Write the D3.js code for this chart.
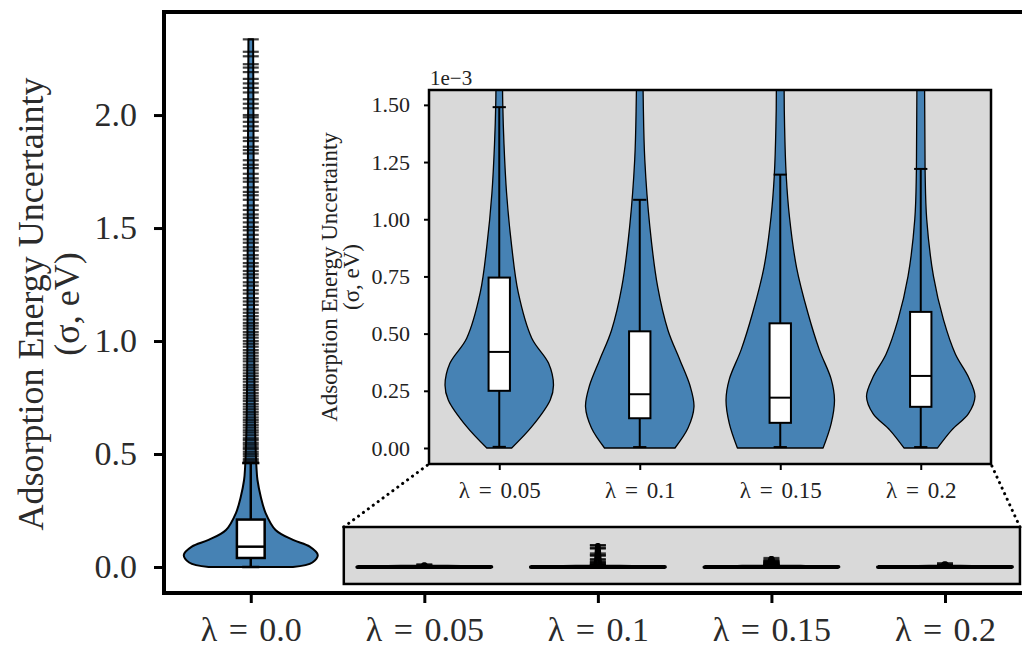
<!DOCTYPE html>
<html lang="en">
<head>
<meta charset="UTF-8">
<title>Adsorption energy uncertainty</title>
<script src="https://cdn.jsdelivr.net/npm/d3@7"></script>
<style>
  body { margin: 0; background: #fff; }
  svg { display: block; font-family: "Liberation Serif", "Times New Roman", serif; }
</style>
</head>
<body>
<svg width="1022" height="647"></svg>
<script>
// categories
var lambdas = ['λ = 0.0', 'λ = 0.05', 'λ = 0.1', 'λ = 0.15', 'λ = 0.2'];
var insetLambdas = lambdas.slice(1);

// tick values (eV)
var mainTicks = [0, 0.5, 1.0, 1.5, 2.0];
var insetTicks = [0, 0.25e-3, 0.5e-3, 0.75e-3, 1.0e-3, 1.25e-3, 1.5e-3];

// box plot stats per lambda (eV)
var whiskerLow  = [0.0,  0.005e-3, 0.004e-3, 0.004e-3, 0.004e-3];
var q1          = [0.04, 0.25e-3,  0.13e-3,  0.11e-3,  0.18e-3];
var median      = [0.09, 0.42e-3,  0.235e-3, 0.22e-3,  0.315e-3];
var q3          = [0.21, 0.745e-3, 0.51e-3,  0.545e-3, 0.595e-3];
var whiskerHigh = [0.46, 1.49e-3,  1.085e-3, 1.195e-3, 1.22e-3];

// violin outlines: [value (eV), relative half width]
var violinL000 = [[0,0.63],[0.02,0.92],[0.053,1.0],[0.09,0.88],[0.12,0.63],[0.164,0.37],[0.24,0.22],
  [0.31,0.15],[0.385,0.10],[0.44,0.085],[0.6,0.065],[1.0,0.05],[1.6,0.045],[2.335,0.035]];
var violinL005 = [[0,0.23],[0.093e-3,0.6],[0.21e-3,0.94],[0.275e-3,1.0],[0.37e-3,0.91],[0.48e-3,0.6],
  [0.68e-3,0.35],[0.88e-3,0.23],[1.115e-3,0.135],[1.33e-3,0.087],[1.5e-3,0.065],[2.0e-3,0.045],[12e-3,0.012]];
var violinL010 = [[0,0.65],[0.087e-3,0.89],[0.18e-3,1.0],[0.27e-3,0.93],[0.385e-3,0.74],[0.515e-3,0.52],
  [0.705e-3,0.33],[0.97e-3,0.185],[1.26e-3,0.093],[1.51e-3,0.065],[2.0e-3,0.05],[97e-3,0.012]];
var violinL015 = [[0,0.79],[0.108e-3,0.94],[0.21e-3,1.0],[0.3e-3,0.94],[0.43e-3,0.72],[0.59e-3,0.51],
  [0.79e-3,0.3],[1.01e-3,0.17],[1.19e-3,0.11],[1.405e-3,0.08],[2.0e-3,0.06],[40e-3,0.015]];
var violinL020 = [[0,0.31],[0.078e-3,0.57],[0.15e-3,0.88],[0.225e-3,1.0],[0.31e-3,0.88],[0.41e-3,0.64],
  [0.56e-3,0.42],[0.75e-3,0.235],[1.0e-3,0.11],[1.215e-3,0.08],[2.0e-3,0.06],[17e-3,0.015]];
var violins = [violinL000, violinL005, violinL010, violinL015, violinL020];

// outliers (eV)
var fliersL000 = [0.462,0.47,0.478,0.49,0.50,0.51,0.522,0.53,0.541,0.55,0.562,0.57,0.583,0.595,0.605,
  0.617,0.628,0.64,0.651,0.662,0.675,0.686,0.698,0.71,0.722,0.735,0.746,0.758,0.77,0.783,0.795,0.806,
  0.82,0.832,0.845,0.857,0.87,0.883,0.895,0.91,0.922,0.935,0.948,0.96,0.975,0.988,1.0,1.015,1.028,1.04,
  1.055,1.068,1.08,1.095,1.11,1.125,1.14,1.16,1.175,1.19,1.21,1.225,1.245,1.26,1.28,1.295,1.31,1.33,
  1.345,1.365,1.38,1.40,1.415,1.435,1.45,1.47,1.49,1.505,1.525,1.545,1.56,1.58,1.60,1.625,1.645,1.66,
  1.68,1.705,1.72,1.74,1.765,1.78,1.80,1.83,1.845,1.86,1.885,1.90,1.93,1.95,1.97,1.99,2.0,2.03,2.05,
  2.07,2.10,2.12,2.14,2.16,2.19,2.21,2.225,2.26,2.28,2.335];
var fliersL005 = [0.012,0.008,0.005,0.003];
var fliersL010 = [0.097,0.095,0.084,0.082,0.06,0.053,0.05,0.035,0.03,0.022,0.02,0.015,0.012,0.01,0.008,0.006,0.004];
var fliersL015 = [0.04,0.032,0.028,0.025,0.022,0.02,0.018,0.016,0.014,0.012,0.01,0.009,0.008,0.007,0.006,0.005,0.004,0.003];
var fliersL020 = [0.017,0.012,0.009,0.007,0.005,0.004,0.003];
var fliers = [fliersL000, fliersL005, fliersL010, fliersL015, fliersL020];

// zoom window drawn on the main axes (data units)
var zoomBoxX = [0.536, 4.432];
var zoomBoxY = [-0.075, 0.177];

var fill = '#4682b4', grey = '#d9d9d9';
var svg = d3.select('svg');
var mainBox = {left: 164, top: 12, right: 1031.75, bottom: 593};
var insetBox = {left: 429, top: 90, right: 991, bottom: 464};

var x = d3.scalePoint().domain(lambdas).range([mainBox.left, mainBox.right]).padding(0.5);
var y = d3.scaleLinear().domain([-0.115, 2.456]).range([mainBox.bottom, mainBox.top]);
var xi = d3.scalePoint().domain(insetLambdas).range([insetBox.left, insetBox.right]).padding(0.5);
var yi = d3.scaleLinear().domain([-0.07e-3, 1.565e-3]).range([insetBox.bottom, insetBox.top]);

function drawViolin(g, prof, cx, hw, ys, sw) {
    var area = d3.area()
        .curve(d3.curveCatmullRom.alpha(0.5))
        .y(function(d) { return ys(d[0]); })
        .x0(function(d) { return cx - hw * d[1]; })
        .x1(function(d) { return cx + hw * d[1]; });
    g.append('path').attr('d', area(prof))
        .attr('fill', fill).attr('stroke', '#000').attr('stroke-width', sw)
        .attr('stroke-linejoin', 'round');
}

function drawBox(g, i, cx, bw, ys, sw) {
    var cw = bw * 0.62;
    g.append('line').attr('x1', cx).attr('x2', cx)
        .attr('y1', ys(whiskerLow[i])).attr('y2', ys(whiskerHigh[i]))
        .attr('stroke', '#000').attr('stroke-width', sw);
    [whiskerLow[i], whiskerHigh[i]].forEach(function(v) {
        g.append('line').attr('x1', cx - cw / 2).attr('x2', cx + cw / 2)
            .attr('y1', ys(v)).attr('y2', ys(v))
            .attr('stroke', '#000').attr('stroke-width', sw);
    });
    g.append('rect').attr('x', cx - bw / 2).attr('width', bw)
        .attr('y', ys(q3[i])).attr('height', ys(q1[i]) - ys(q3[i]))
        .attr('fill', '#fff').attr('stroke', '#000').attr('stroke-width', sw);
    g.append('line').attr('x1', cx - bw / 2).attr('x2', cx + bw / 2)
        .attr('y1', ys(median[i])).attr('y2', ys(median[i]))
        .attr('stroke', '#000').attr('stroke-width', sw);
}

// ---------- main axes ----------
var gm = svg.append('g');
gm.append('rect')
    .attr('x', x(lambdas[0]) + zoomBoxX[0] * x.step())
    .attr('y', y(zoomBoxY[1]))
    .attr('width', (zoomBoxX[1] - zoomBoxX[0]) * x.step())
    .attr('height', y(zoomBoxY[0]) - y(zoomBoxY[1]))
    .attr('fill', grey).attr('stroke', '#000').attr('stroke-width', 2.5);

lambdas.forEach(function(l, i) {
    var cx = x(l);
    drawViolin(gm, violins[i], cx, x.step() * 0.386, y, i === 0 ? 2 : 4);
    drawBox(gm, i, cx, x.step() * 0.16, y, 2.5);
    gm.append('g').selectAll('line').data(fliers[i]).enter().append('line')
        .attr('x1', cx - 8).attr('x2', cx + 8)
        .attr('y1', function(d) { return y(d); }).attr('y2', function(d) { return y(d); })
        .attr('stroke', '#000').attr('stroke-width', 2.2).attr('stroke-opacity', 0.75);
});

gm.append('rect')
    .attr('x', mainBox.left).attr('y', mainBox.top)
    .attr('width', mainBox.right - mainBox.left).attr('height', mainBox.bottom - mainBox.top)
    .attr('fill', 'none').attr('stroke', '#000').attr('stroke-width', 4);

var yAxis = gm.append('g').attr('transform', 'translate(' + mainBox.left + ',0)')
    .call(d3.axisLeft(y).tickValues(mainTicks).tickFormat(d3.format('.1f')).tickSize(10).tickPadding(17));
var xAxis = gm.append('g').attr('transform', 'translate(0,' + mainBox.bottom + ')')
    .call(d3.axisBottom(x).tickSize(10).tickPadding(14));
[yAxis, xAxis].forEach(function(a) {
    a.attr('font-family', null).attr('font-size', null);
    a.select('.domain').remove();
    a.selectAll('line').attr('stroke', '#000').attr('stroke-width', 3);
    a.selectAll('text').attr('font-size', 34).attr('fill', '#2b2b2b');
});
xAxis.selectAll('text').style('word-spacing', '3px');

gm.append('text')
    .attr('transform', 'translate(43,304) rotate(-90)')
    .attr('text-anchor', 'middle').attr('font-size', 36).attr('fill', '#2b2b2b')
    .text('Adsorption Energy Uncertainty');
gm.append('text')
    .attr('transform', 'translate(79,304) rotate(-90)')
    .attr('text-anchor', 'middle').attr('font-size', 36).attr('fill', '#2b2b2b')
    .text('(σ, eV)');

// connector dots from zoom window to inset
var zx0 = x(lambdas[0]) + zoomBoxX[0] * x.step(), zx1 = x(lambdas[0]) + zoomBoxX[1] * x.step();
[[zx0, insetBox.left], [zx1, insetBox.right]].forEach(function(p) {
    svg.append('line')
        .attr('x1', p[0]).attr('y1', y(zoomBoxY[1]))
        .attr('x2', p[1]).attr('y2', insetBox.bottom)
        .attr('stroke', '#000').attr('stroke-width', 3)
        .attr('stroke-linecap', 'round').attr('stroke-dasharray', '0.1,6');
});

// ---------- inset axes ----------
var gi = svg.append('g');
gi.append('rect')
    .attr('x', insetBox.left).attr('y', insetBox.top)
    .attr('width', insetBox.right - insetBox.left).attr('height', insetBox.bottom - insetBox.top)
    .attr('fill', grey);
svg.append('defs').append('clipPath').attr('id', 'inset-clip').append('rect')
    .attr('x', insetBox.left).attr('y', insetBox.top)
    .attr('width', insetBox.right - insetBox.left).attr('height', insetBox.bottom - insetBox.top);
var gc = gi.append('g').attr('clip-path', 'url(#inset-clip)');
insetLambdas.forEach(function(l, j) {
    var cx = xi(l), i = j + 1;
    drawViolin(gc, violins[i], cx, xi.step() * 0.386, yi, 1.3);
    drawBox(gc, i, cx, xi.step() * 0.152, yi, 2);
});
gi.append('rect')
    .attr('x', insetBox.left).attr('y', insetBox.top)
    .attr('width', insetBox.right - insetBox.left).attr('height', insetBox.bottom - insetBox.top)
    .attr('fill', 'none').attr('stroke', '#000').attr('stroke-width', 2.5);

var yiAxis = gi.append('g').attr('transform', 'translate(' + insetBox.left + ',0)')
    .call(d3.axisLeft(yi).tickValues(insetTicks)
        .tickFormat(function(d) { return d3.format('.2f')(d / 1e-3); })
        .tickSize(5).tickPadding(14));
var xiAxis = gi.append('g').attr('transform', 'translate(0,' + insetBox.bottom + ')')
    .call(d3.axisBottom(xi).tickSize(6).tickPadding(12));
[yiAxis, xiAxis].forEach(function(a) {
    a.attr('font-family', null).attr('font-size', null);
    a.select('.domain').remove();
    a.selectAll('line').attr('stroke', '#000').attr('stroke-width', 2);
    a.selectAll('text').attr('font-size', 22).attr('fill', '#222');
});
xiAxis.selectAll('text').attr('font-size', 23).style('word-spacing', '3px');
gi.append('text').attr('x', insetBox.left + 1).attr('y', 85)
    .attr('font-size', 21).attr('fill', '#222').text('1e\u22123');
gi.append('text')
    .attr('transform', 'translate(337,277) rotate(-90)')
    .attr('text-anchor', 'middle').attr('font-size', 23).attr('fill', '#222')
    .text('Adsorption Energy Uncertainty');
gi.append('text')
    .attr('transform', 'translate(359,277) rotate(-90)')
    .attr('text-anchor', 'middle').attr('font-size', 23).attr('fill', '#222')
    .text('(σ, eV)');
</script>
</body>
</html>
